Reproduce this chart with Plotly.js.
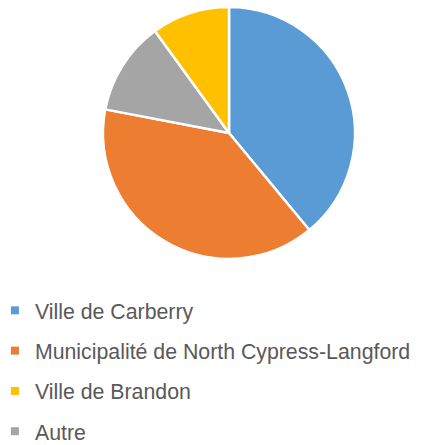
<!DOCTYPE html>
<html>
<head>
<meta charset="utf-8">
<script src="https://cdn.plot.ly/plotly-3.0.1.min.js"></script>
<style>html,body{margin:0;padding:0;background:#fff;}#chart{width:422px;height:445px;}</style>
</head>
<body>
<div id="chart"></div>
<script>
// Data
var categories = ["Ville de Carberry", "Municipalité de North Cypress-Langford", "Ville de Brandon", "Autre"];
var shares = [39, 39, 10, 12];
var colors = ["#5B9BD5", "#ED7D31", "#FFC000", "#A5A5A5"];

var pie = {
  type: "pie",
  labels: categories,
  values: shares,
  marker: {colors: colors, line: {color: "#ffffff", width: 2.5}},
  sort: true,
  direction: "clockwise",
  rotation: 0,
  textinfo: "none",
  hoverinfo: "label+percent",
  showlegend: false,
  domain: {x: [0.2441, 0.8412], y: [0.4180, 0.9843]}
};

var legendTraces = categories.map(function (c, i) {
  return {
    type: "scatter",
    mode: "markers",
    x: [null], y: [null],
    name: c,
    legendgroup: "g" + i,
    marker: {symbol: "square", size: 8, color: colors[i]},
    hoverinfo: "skip",
    showlegend: true
  };
});

var layout = {
  width: 422, height: 445,
  margin: {l: 0, r: 0, t: 0, b: 0, autoexpand: false},
  paper_bgcolor: "#ffffff",
  plot_bgcolor: "#ffffff",
  xaxis: {visible: false, domain: [0, 0.01]},
  yaxis: {visible: false, domain: [0, 0.01]},
  showlegend: true,
  legend: {
    x: -0.012, xanchor: "left",
    y: (445 - 290) / 445, yanchor: "top",
    traceorder: "grouped",
    tracegroupgap: 9.6,
    font: {family: "Liberation Sans, Arial, sans-serif", size: 21.3, color: "#595959"},
    bgcolor: "rgba(0,0,0,0)"
  },
  font: {family: "Liberation Sans, Arial, sans-serif", color: "#595959"}
};

Plotly.newPlot("chart", [pie].concat(legendTraces), layout, {displayModeBar: false, staticPlot: true});
</script>
</body>
</html>
